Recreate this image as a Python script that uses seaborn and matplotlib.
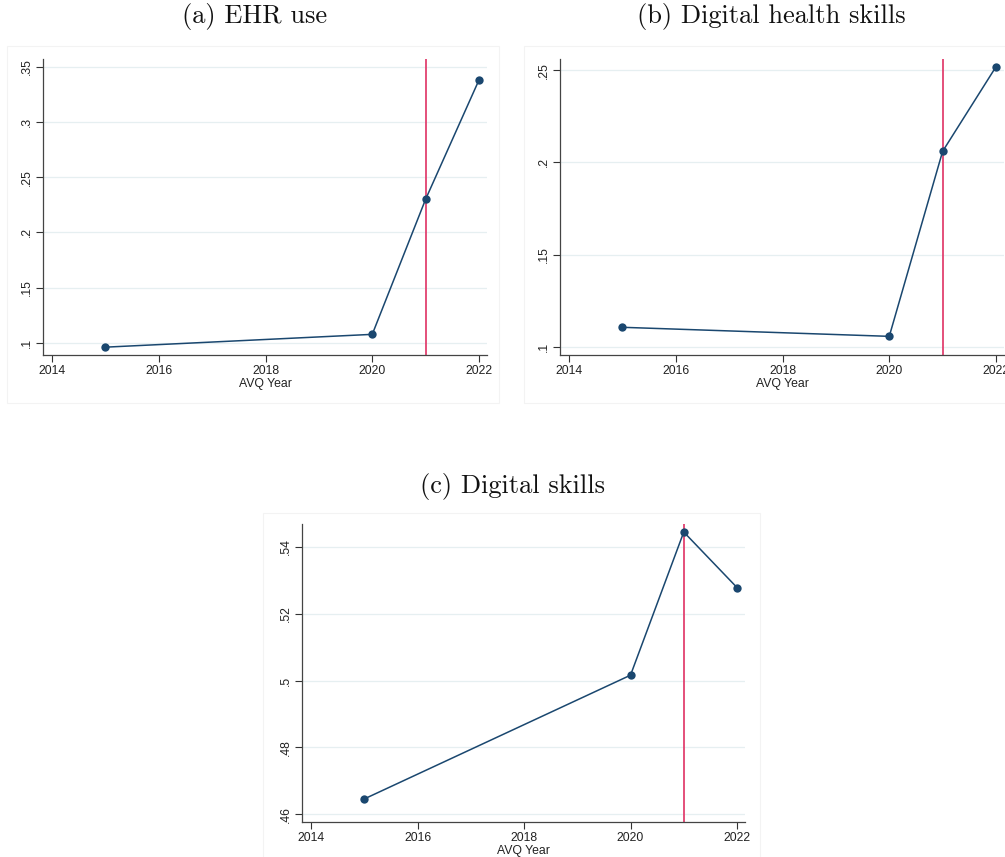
import matplotlib
matplotlib.use("Agg")
import matplotlib.pyplot as plt
from matplotlib.patches import Rectangle
import seaborn as sns
import pandas as pd

# Survey waves and outcome means
years = [2015, 2020, 2021, 2022]
ehr_use = [0.096, 0.1076, 0.230, 0.338]
digital_health_skills = [0.1107, 0.1058, 0.206, 0.2518]
digital_skills = [0.4646, 0.5016, 0.5444, 0.5278]

x_ticks = [2014, 2016, 2018, 2020, 2022]
ehr_ticks = [0.10, 0.15, 0.20, 0.25, 0.30, 0.35]
dhs_ticks = [0.10, 0.15, 0.20, 0.25]
ds_ticks = [0.46, 0.48, 0.50, 0.52, 0.54]

policy_year = 2021

titles = ["(a) EHR use", "(b) Digital health skills", "(c) Digital skills"]

sns.set_theme(style="white")
plt.rcParams["font.family"] = ["Liberation Sans", "DejaVu Sans"]

W, H = 1005, 857
fig = plt.figure(figsize=(W / 100, H / 100), dpi=100)


def px_axes(left, top, right, bottom):
    return fig.add_axes([left / W, 1 - bottom / H, (right - left) / W, (bottom - top) / H])


def fmt(v):
    s = f"{v:.2f}".rstrip("0").rstrip(".")
    return s[1:] if s.startswith("0") else s


NAVY = "#1a476f"
RED = "#e2416f"
GRID = "#e6eff1"

panels = [
    (px_axes(43, 59, 487, 355), ehr_use, ehr_ticks, (0.0889, 0.357)),
    (px_axes(560, 59, 1004, 355), digital_health_skills, dhs_ticks, (0.0957, 0.256)),
    (px_axes(302, 524, 745, 822), digital_skills, ds_ticks, (0.4577, 0.5468)),
]

for ax, vals, yt, ylim in panels:
    df = pd.DataFrame({"AVQ Year": years, "value": vals})
    ax.set_xlim(2013.83, 2022.15)
    ax.set_ylim(*ylim)
    for t in yt:
        ax.axhline(t, color=GRID, lw=0.9, zorder=0)
    ax.axvline(policy_year, color=RED, lw=1.3, zorder=1)
    sns.lineplot(data=df, x="AVQ Year", y="value", ax=ax, color=NAVY, lw=1.1,
                 marker="o", markersize=6, markeredgewidth=0, zorder=3)
    ax.set_xticks(x_ticks)
    ax.set_xticklabels([str(x) for x in x_ticks])
    ax.set_yticks(yt)
    ax.set_yticklabels([fmt(t) for t in yt], rotation=90, va="center")
    ax.set_ylabel("")
    ax.set_xlabel("AVQ Year", fontsize=8.8, labelpad=1, color="#222222")
    ax.tick_params(axis="both", direction="out", length=5, width=0.8, color="#333333",
                   labelsize=8.8, labelcolor="#222222", pad=2, bottom=True, left=True)
    for side in ["top", "right"]:
        ax.spines[side].set_visible(False)
    for side in ["left", "bottom"]:
        ax.spines[side].set_color("#444444")
        ax.spines[side].set_linewidth(0.9)
    ax.set_facecolor("white")

# Faint graph-region frames
for (l, t, r, b) in [(7, 46, 499, 403), (524, 46, 1010, 403), (263, 513, 760, 870)]:
    fig.patches.append(Rectangle((l / W, 1 - b / H), (r - l) / W, (b - t) / H,
                                 transform=fig.transFigure, fill=False,
                                 edgecolor="#f3f3f3", lw=0.8, zorder=0))

# Panel titles
for (cx, cy), txt in zip([(255, 17), (771, 17), (512, 487)], titles):
    fig.text(cx / W, 1 - cy / H, txt, ha="center", va="center",
             fontsize=19, family=["cmr10", "DejaVu Serif"], color="#111111")

fig.savefig("out.png", dpi=100, facecolor="white")
